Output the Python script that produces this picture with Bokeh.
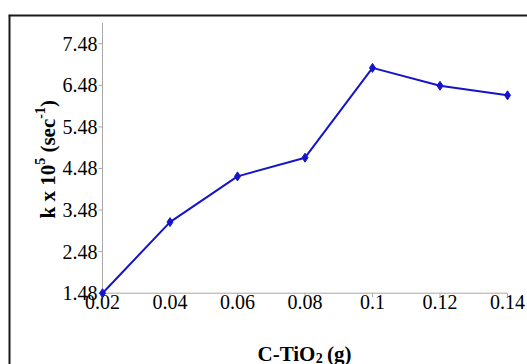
from bokeh.plotting import figure
from bokeh.models import Range1d, Label, Span
from bokeh.core.properties import value
from bokeh.embed import file_html
from bokeh.resources import INLINE
import math

# data
dose = [0.02, 0.04, 0.06, 0.08, 0.10, 0.12, 0.14]
k_values = [1.48, 3.19, 4.29, 4.74, 6.90, 6.47, 6.24]
x_ticks = [0.02, 0.04, 0.06, 0.08, 0.10, 0.12, 0.14]
x_tick_labels = ["0.02", "0.04", "0.06", "0.08", "0.1", "0.12", "0.14"]
y_ticks = [1.48, 2.48, 3.48, 4.48, 5.48, 6.48, 7.48]
y_tick_labels = ["1.48", "2.48", "3.48", "4.48", "5.48", "6.48", "7.48"]
x_min, x_max = 0.02, 0.14
y_min, y_axis_top = 1.48, 7.98

# layout (pixels)
W, H = 527, 364
LEFT_GAP, TOP_GAP = 8, 14
FRAME_W, FRAME_H = W - LEFT_GAP, H - TOP_GAP
AX_LEFT, AX_RIGHT = 94, 499      # x pixel of x_min / x_max inside frame
AX_BOTTOM = 71.3                 # pixel of y_min above frame bottom
PX_PER_UNIT_Y = 41.57

xs = (x_max - x_min) / (AX_RIGHT - AX_LEFT)
x_start = x_min - AX_LEFT * xs
x_end = x_max + (FRAME_W - AX_RIGHT) * xs
y_start = y_min - AX_BOTTOM / PX_PER_UNIT_Y
y_end = y_min + (FRAME_H - AX_BOTTOM) / PX_PER_UNIT_Y

FONT = "Times New Roman"
BLUE = "#1414c8"
GREY = "#a8a8a8"

p = figure(width=W, height=H, output_backend="svg", toolbar_location=None,
           x_range=Range1d(x_start, x_end), y_range=Range1d(y_start, y_end),
           min_border_left=LEFT_GAP, min_border_right=0, min_border_top=TOP_GAP,
           min_border_bottom=0)
p.axis.visible = False
p.outline_line_color = None
p.grid.grid_line_color = None
p.background_fill_color = "white"
p.border_fill_color = "white"

# outer chart border (left and top edges visible)
p.add_layout(Span(location=x_start, dimension="height", line_color="#1a1a1a", line_width=4))
p.add_layout(Span(location=y_end, dimension="width", line_color="#1a1a1a", line_width=4))

# axes lines
p.segment(x0=[x_min, x_min], y0=[y_min, y_min], x1=[x_min, x_max], y1=[y_axis_top, y_min],
          line_color=GREY, line_width=1)
# ticks
p.ray(x=[x_min] * len(y_ticks), y=y_ticks, length=4, length_units="screen", angle=math.pi,
      line_color=GREY, line_width=1)
p.ray(x=x_ticks, y=[y_min] * len(x_ticks), length=4, length_units="screen", angle=-math.pi / 2,
      line_color=GREY, line_width=1)
# tick labels
p.text(x=[x_min] * len(y_ticks), y=y_ticks, text=y_tick_labels, x_offset=-5,
       text_align="right", text_baseline="middle", text_font=value(FONT),
       text_font_size=value("20px"), text_color="black")
p.text(x=x_ticks, y=[y_min] * len(x_ticks), text=x_tick_labels,
       y_offset=2, text_align="center", text_baseline="top", text_font=value(FONT),
       text_font_size=value("20px"), text_color="black")

# data
p.line(dose, k_values, line_color=BLUE, line_width=2)
p.scatter(dose, k_values, marker="diamond", size=9, fill_color=BLUE, line_color=BLUE)

fs = 21
sub = 14
def lab(**kw):
    base = dict(x_units="screen", y_units="screen", text_font=FONT, text_font_style="bold",
                text_color="black", text_baseline="alphabetic", text_align="left")
    base.update(kw)
    p.add_layout(Label(**base))

# x axis label: C-TiO2 (g)
xb = 11
x0 = 249
lab(x=x0, y=xb, text="C-TiO", text_font_size=f"{fs}px")
x1 = x0 + 2.778 * fs
lab(x=x1, y=xb - 4, text="2", text_font_size=f"{sub}px")
x2 = x1 + 0.5 * sub + 0.2 * fs
lab(x=x2, y=xb, text="(g)", text_font_size=f"{fs}px")

# y axis label: k x 10^5 (sec^-1)
bx = 39
y0 = 146
ang = math.pi / 2
lab(x=bx, y=y0, text="k x 10", text_font_size=f"{fs}px", angle=ang)
y1 = y0 + 2.556 * fs
lab(x=bx - 8, y=y1, text="5", text_font_size=f"{sub}px", angle=ang)
y2 = y1 + 0.5 * sub + 0.25 * fs
lab(x=bx, y=y2, text="(sec", text_font_size=f"{fs}px", angle=ang)
y3 = y2 + 1.61 * fs
lab(x=bx - 8, y=y3, text="-1", text_font_size=f"{sub}px", angle=ang)
y4 = y3 + 0.833 * sub
lab(x=bx, y=y4, text=")", text_font_size=f"{fs}px", angle=ang)

open("out.html", "w").write(file_html(p, INLINE))
